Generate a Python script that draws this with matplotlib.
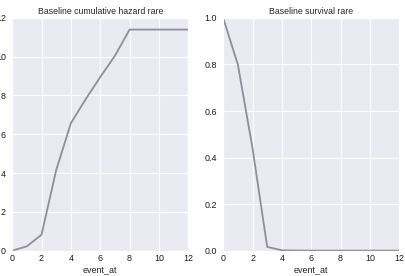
import matplotlib
matplotlib.use("Agg")
import matplotlib.pyplot as plt
import seaborn as sns

# data
event_at = [0, 1, 2, 3, 4, 5, 6, 7, 8, 9, 10, 11, 12]
cum_hazard = [0.0, 0.22, 0.82, 4.15, 6.57, 7.8, 8.95, 10.05, 11.4, 11.4, 11.4, 11.4, 11.4]
survival = [1.0, 0.80, 0.44, 0.016, 0.0014, 0.0004, 0.0001, 0.0, 0.0, 0.0, 0.0, 0.0, 0.0]

sns.set_style("darkgrid")
plt.rcParams['font.family'] = ['Liberation Sans', 'DejaVu Sans']

fig = plt.figure(figsize=(4.05, 2.76), dpi=100)
ax1 = fig.add_axes([0.030, 0.092, 0.435, 0.843])
ax2 = fig.add_axes([0.551, 0.092, 0.435, 0.843])

line_color = '#8f8f99'

ax1.plot(event_at, cum_hazard, color=line_color, lw=1.3)
ax1.set_xlim(0, 12)
ax1.set_ylim(0, 12)
ax1.set_xticks(range(0, 13, 2))
ax1.set_yticks(range(0, 13, 2))
ax1.set_title("Baseline cumulative hazard rare", fontsize=6.3, pad=3)
ax1.set_xlabel("event_at", fontsize=6.5, labelpad=1.5)

ax2.plot(event_at, survival, color=line_color, lw=1.3)
ax2.set_xlim(0, 12)
ax2.set_ylim(0, 1.0)
ax2.set_xticks(range(0, 13, 2))
ax2.set_yticks([0.0, 0.2, 0.4, 0.6, 0.8, 1.0])
ax2.set_title("Baseline survival rare", fontsize=6.3, pad=3)
ax2.set_xlabel("event_at", fontsize=6.5, labelpad=1.5)

for ax in (ax1, ax2):
    ax.tick_params(labelsize=6.4, length=0, colors='#1a1a1a')
    ax.tick_params(axis='x', pad=2.5)
    ax.tick_params(axis='y', pad=4.5)
    ax.grid(color='white', lw=0.8)

fig.savefig("out.png", dpi=100)
